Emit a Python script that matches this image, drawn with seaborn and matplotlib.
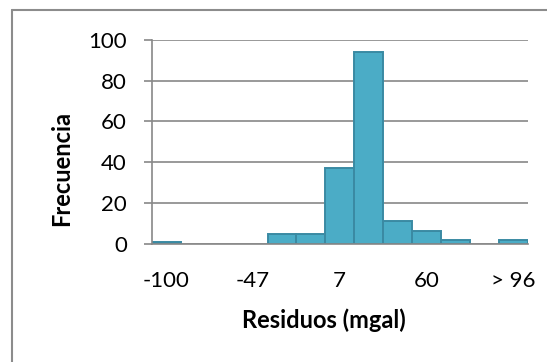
import matplotlib
matplotlib.use("Agg")
import matplotlib.pyplot as plt
from matplotlib.lines import Line2D
import seaborn as sns
import pandas as pd

# Histogram classes (upper bin limits, mgal) and their counts
clases = ["-100", "-82", "-64", "-47", "-29", "-11", "7", "25", "42", "60", "78", "96", "> 96"]
frecuencia = [1, 0, 0, 0, 5, 5, 37, 94, 11, 6, 2, 0, 2]
yticks = [0, 20, 40, 60, 80, 100]

sns.set_theme(style="white")
plt.rcParams["font.family"] = ["Lato", "DejaVu Sans"]

df = pd.DataFrame({"clase": clases, "frecuencia": frecuencia})

W, H = 547, 362
fig = plt.figure(figsize=(W / 100, H / 100), dpi=100)
ax = fig.add_axes([152 / W, 1 - 243.7 / H, 375.5 / W, 203.7 / H])

sns.barplot(data=df, x="clase", y="frecuencia", order=clases, color="#4BACC6",
            saturation=1, width=1.0, edgecolor="#3a8aa3", linewidth=1.4, ax=ax)
for p in ax.patches:
    if p.get_height() == 0:
        p.set_edgecolor("none")

grid_c = "#888888"
ax.set_ylim(0, 100)
ax.set_xlim(-0.5, len(clases) - 0.5)
ax.set_yticks(yticks)
ax.set_yticklabels([str(v) for v in yticks])
ax.yaxis.grid(True, color=grid_c, linewidth=1.2)
ax.set_axisbelow(True)

shown = list(range(0, len(clases), 3))
ax.set_xticks(shown)
ax.set_xticklabels([clases[i] for i in shown])

ax.tick_params(axis="y", which="major", left=True, length=6, width=1.2, color=grid_c,
               pad=12, labelsize=16, labelcolor="black")
ax.tick_params(axis="x", which="major", bottom=False, length=0, pad=20,
               labelsize=16, labelcolor="black")

for side in ["top", "right"]:
    ax.spines[side].set_visible(False)
for side in ["left", "bottom"]:
    ax.spines[side].set_color(grid_c)
    ax.spines[side].set_linewidth(1.2)

ax.set_xlabel("Residuos (mgal)", fontsize=17, fontweight="bold", color="black")
ax.set_ylabel("Frecuencia", fontsize=17, fontweight="bold", color="black")
ax.xaxis.set_label_coords((324 - 152) / 375.5, (243.7 - 320) / 203.7)
ax.xaxis.label.set_va("center")
ax.yaxis.set_label_coords((62 - 152) / 375.5, (243.7 - 168) / 203.7)
ax.yaxis.label.set_va("center")

# Chart-area border (only the top and left edges fall inside the image)
frame_c = "#8c8c8c"
fig.add_artist(Line2D([12 / W, 12 / W], [1 - 9.5 / H, 0], transform=fig.transFigure,
                      color=frame_c, linewidth=1.5))
fig.add_artist(Line2D([12 / W, 1], [1 - 9.5 / H, 1 - 9.5 / H], transform=fig.transFigure,
                      color=frame_c, linewidth=1.5))

fig.savefig("out.png", dpi=100, facecolor="white")
